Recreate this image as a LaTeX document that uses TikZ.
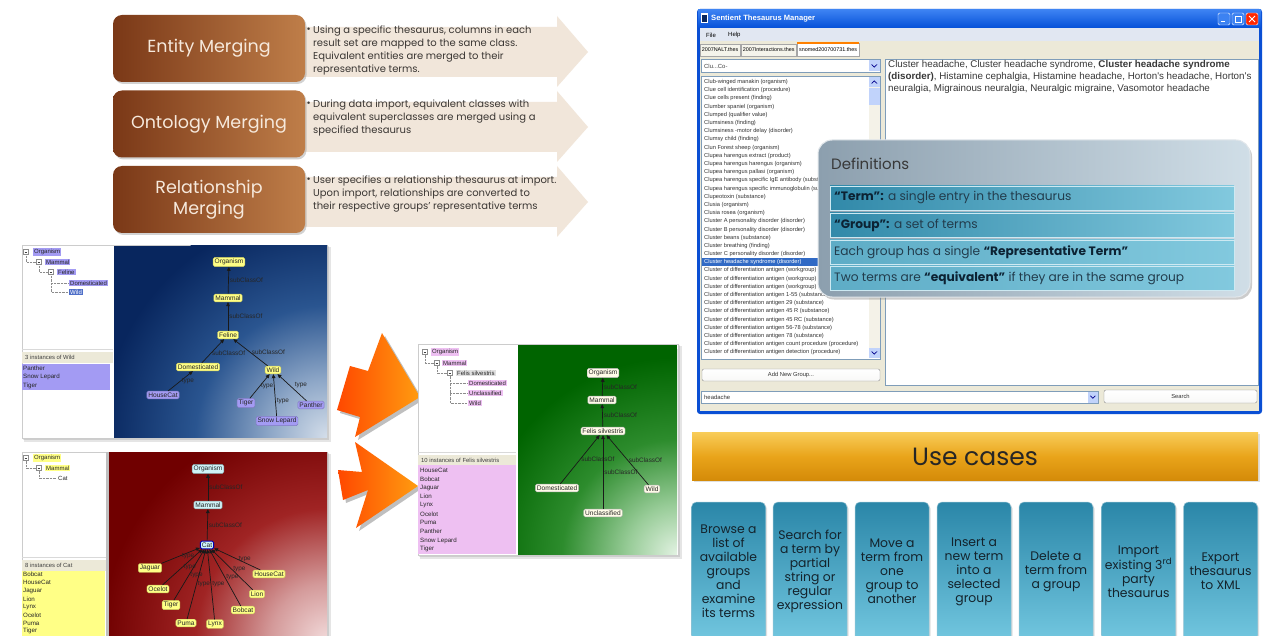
\documentclass[tikz,border=0pt]{standalone}
\usepackage{fontspec}
\setmainfont{Liberation Sans}
\newfontfamily\slidefont{Poppins}
\newfontfamily\uifont{Liberation Sans}
\usetikzlibrary{arrows.meta,shadows,calc,positioning}
\newcommand{\setfs}[2]{\fontsize{#1}{#2}\selectfont}
% small tree-view expander box
\newcommand{\minusbox}[2]{%
  \draw[black!45, fill=white, line width=.4pt] (#1-2.4,#2-2.4) rectangle (#1+2.4,#2+2.4);
  \draw[black!75, line width=.45pt] (#1-1.3,#2) -- (#1+1.3,#2);}

\definecolor{brownD}{HTML}{7A3817}
\definecolor{brownL}{HTML}{BF7E49}
\definecolor{cream}{HTML}{F6E9DC}
\definecolor{beigeA}{HTML}{F1E6DA}
\definecolor{bodytxt}{HTML}{3A3633}
\definecolor{navy}{HTML}{08265E}
\definecolor{navyM}{HTML}{2A5590}
\definecolor{skyM}{HTML}{8FA8C8}
\definecolor{skyL}{HTML}{D4DEEA}
\definecolor{wine}{HTML}{700000}
\definecolor{wineM}{HTML}{A02424}
\definecolor{roseM}{HTML}{D49A9A}
\definecolor{roseL}{HTML}{F2DADA}
\definecolor{forest}{HTML}{006400}
\definecolor{forestM}{HTML}{2D8C2D}
\definecolor{mintM}{HTML}{98CC98}
\definecolor{mintL}{HTML}{E2F2E2}
\definecolor{ylw}{HTML}{FFFF86}
\definecolor{ylwE}{HTML}{C8C860}
\definecolor{lav}{HTML}{A39BF3}
\definecolor{lavD}{HTML}{4F6FC8}
\definecolor{pinkL}{HTML}{EEC0F2}
\definecolor{cyanL}{HTML}{CFF3F8}
\definecolor{creamN}{HTML}{FFFCE8}
\definecolor{xpbeige}{HTML}{ECE9D8}
\definecolor{xpblue}{HTML}{0A4FD4}
\definecolor{xptitleA}{HTML}{3C82F2}
\definecolor{xptitleB}{HTML}{0550D8}
\definecolor{menubg}{HTML}{E1E7F2}
\definecolor{fieldedge}{HTML}{7F9DB9}
\definecolor{selblue}{HTML}{316AC5}
\definecolor{scrollbtn}{HTML}{C1D3FB}
\definecolor{orA}{HTML}{FF4800}
\definecolor{orB}{HTML}{FF9C10}
\definecolor{defA}{HTML}{8C9FAE}
\definecolor{defB}{HTML}{D0DEE7}
\definecolor{barA}{HTML}{3189A9}
\definecolor{barB}{HTML}{82C9DE}
\definecolor{defink}{HTML}{0C2233}
\definecolor{defbody}{HTML}{223C4C}
\definecolor{goldA}{HTML}{F8CC58}
\definecolor{goldM}{HTML}{E9A41A}
\definecolor{goldB}{HTML}{D48A08}
\definecolor{ucA}{HTML}{2A86A8}
\definecolor{ucB}{HTML}{78CCE4}
\definecolor{ucink}{HTML}{14232C}

% glow shadings for the three graph canvases (light corner fading to dark)
\pgfdeclareradialshading{blueglow}{\pgfpoint{0bp}{0bp}}{color(0bp)=(skyL); color(6bp)=(skyM); color(14bp)=(navyM); color(24bp)=(navy); color(50bp)=(navy)}
\pgfdeclareradialshading{redglow}{\pgfpoint{0bp}{0bp}}{color(0bp)=(roseL); color(6bp)=(roseM); color(14bp)=(wineM); color(24bp)=(wine); color(50bp)=(wine)}
\pgfdeclareradialshading{greenglow}{\pgfpoint{0bp}{0bp}}{color(0bp)=(mintL); color(6bp)=(mintM); color(14bp)=(forestM); color(24bp)=(forest); color(50bp)=(forest)}

\tikzset{
  mergebox/.style={rounded corners=9pt, minimum width=192pt, minimum height=67pt, inner sep=0pt,
    left color=brownD, right color=brownL, text=cream,
    font=\slidefont\setfs{17.5}{21}, align=center,
    drop shadow={opacity=.35, shadow xshift=1.5pt, shadow yshift=-2pt}},
  bullettext/.style={anchor=north west, inner sep=0pt, align=left, text=bodytxt,
    font=\slidefont\setfs{10}{13}},
  gnode/.style={rounded corners=1.5pt, inner sep=1.5pt, font=\uifont\setfs{6.6}{7}, text=black!85},
  yn/.style={gnode, fill=ylw, draw=ylwE},
  pn/.style={gnode, fill=lav, draw=lav!80!black},
  cn/.style={gnode, fill=cyanL, draw=cyanL!60!black},
  wn/.style={gnode, fill=creamN, draw=black!30},
  isa/.style={draw=black!90, line width=.7pt, -{Triangle[length=4pt,width=3.6pt]}},
  el/.style={font=\uifont\setfs{6.4}{7}, text=black!85, inner sep=1pt},
  treeitem/.style={font=\uifont\setfs{6}{7}, inner sep=1pt, anchor=west, text=black!85},
  treeline/.style={draw=black!45, densely dotted, line width=.4pt},
  listitem/.style={font=\uifont\setfs{6.2}{7}, inner sep=0pt, anchor=west, text=black!85},
  thesitem/.style={font=\uifont\setfs{5.7}{6}, inner sep=0pt, anchor=west, text=black!80},
  header/.style={font=\uifont\setfs{5.9}{7}, inner sep=0pt, anchor=west, text=black!75},
  tabst/.style={draw=black!35, fill=xpbeige!50!white, font=\uifont\setfs{5.4}{6}, inner sep=1.6pt,
    minimum height=12pt, anchor=south west},
  xpbtn/.style={draw=black!45, rounded corners=2pt, top color=white, bottom color=xpbeige!80!black!10,
    font=\uifont\setfs{5.8}{6}, text=black!80},
  defbox/.style={rounded corners=14pt, minimum width=432pt, minimum height=157pt, draw=white!75!defA,
    line width=1pt, left color=defA, right color=defB,
    drop shadow={opacity=.4, shadow xshift=2pt, shadow yshift=-2.5pt}},
  defbar/.style={minimum width=404pt, minimum height=24pt, inner sep=0pt, draw=white!60!barB,
    line width=.6pt, left color=barA, right color=barB},
  deftext/.style={anchor=west, inner sep=0pt, font=\slidefont\setfs{12.2}{14}, text=defbody},
  ucbox/.style={rounded corners=5pt, minimum width=74pt, minimum height=150pt, inner sep=0pt,
    top color=ucA, bottom color=ucB, draw=white!50!ucA, line width=.5pt,
    drop shadow={opacity=.25, shadow xshift=1.5pt, shadow yshift=-1.5pt}},
  uctext/.style={align=center, inner sep=0pt, text=ucink, font=\slidefont\setfs{12.4}{14}},
}

\begin{document}
\begin{tikzpicture}[x=1pt,y=-1pt]
\useasboundingbox[fill=white] (0,0) rectangle (1279,636);

% ================= merging overview =================
\foreach \yt/\yb/\hy in {27/77/52, 102/152/127, 177/227/202}{
  \fill[beigeA] (300,\yt) -- (557,\yt) -- (557,\yt-11) -- (588,\hy) -- (557,\yb+10) -- (557,\yb) -- (300,\yb) -- cycle;
}
\node[mergebox] (entity) at (209,48.5) {Entity Merging};
\node[mergebox] (onto) at (209,124) {Ontology Merging};
\node[mergebox] (rel) at (209,199.5) {Relationship\\Merging};

\node[bullettext] (dot1) at (306.5,27.5) {•};
\node[bullettext] (txt1) at (313,26) {Using a specific thesaurus, columns in each\\result set are mapped to the same class.\\Equivalent entities are merged to their\\representative terms.};
\node[bullettext] (dot2) at (306.5,101.5) {•};
\node[bullettext] (txt2) at (313,100) {During data import, equivalent classes with\\equivalent superclasses are merged using a\\specified thesaurus};
\node[bullettext] (dot3) at (306.5,177.5) {•};
\node[bullettext] (txt3) at (313,176) {User specifies a relationship thesaurus at import.\\Upon import, relationships are converted to\\their respective groups’ representative terms};

% ================= blue ontology view =================
\fill[black, opacity=.10] (24,247) rectangle (331,442);
\fill[black, opacity=.10] (23,246) rectangle (329,440);
\fill[white] (22,245) rectangle (327,438);
\draw[black!20] (22,245) rectangle (327,438);
\begin{scope}
\clip (114,246) rectangle (327,437);
\fill[navy] (114,246) rectangle (327,437);
\shade[shading=blueglow] (327,437) circle[radius=235pt];
\end{scope}
% tree
\minusbox{26}{252}
\node[treeitem, fill=lav] (bt-org) at (33,252) {Organism};
\draw[treeline] (26,254.5) -- (26,262) -- (36.5,262);
\minusbox{39}{262}
\node[treeitem, fill=lav] (bt-mam) at (45,262) {Mammal};
\draw[treeline] (39,264.5) -- (39,272) -- (48.5,272);
\minusbox{51}{272}
\node[treeitem, fill=lav] (bt-fel) at (57,272) {Feline};
\draw[treeline] (51,274.5) -- (51,292) -- (68,292) (51,283) -- (68,283);
\node[treeitem, fill=lav] (bt-dom) at (69,283) {Domesticated};
\node[treeitem, fill=lavD, text=white] (bt-wild) at (69,292) {Wild};
\draw[black!15] (22,349) -- (113,349);
\fill[xpbeige] (22,352) rectangle (113,363);
\node[header] (bh) at (25,357.5) {3 instances of Wild};
\fill[lav] (22,364) rectangle (110,390);
\node[listitem] (bl1) at (23,368) {Panther};
\node[listitem] (bl2) at (23,377) {Snow Lepard};
\node[listitem] (bl3) at (23,386) {Tiger};
% graph
\node[yn] (b-org) at (229,262) {Organism};
\node[yn] (b-mam) at (228,298) {Mammal};
\node[yn] (b-fel) at (228,335) {Feline};
\node[yn] (b-dom) at (198,367) {Domesticated};
\node[yn] (b-wild) at (273,370) {Wild};
\node[pn] (b-hc) at (163,395) {HouseCat};
\node[pn] (b-tig) at (246,403) {Tiger};
\node[pn] (b-sl) at (277,421) {Snow Lepard};
\node[pn] (b-pan) at (311,405) {Panther};
\draw[isa] (b-mam) -- node[el, anchor=west] {subClassOf} (b-org);
\draw[isa] (b-fel) -- node[el, anchor=west] {subClassOf} (b-mam);
\draw[isa] (b-dom) -- node[el, anchor=west, pos=.4] {subClassOf} (b-fel);
\draw[isa] (b-wild) -- node[el, anchor=west, pos=.5] {subClassOf} (b-fel);
\draw[isa] (b-hc) -- node[el, anchor=west] {type} (b-dom);
\draw[isa] (b-tig) -- node[el, anchor=west] {type} (b-wild);
\draw[isa] (b-sl) -- node[el, anchor=west, pos=.35] {type} (b-wild);
\draw[isa] (b-pan) -- node[el, anchor=south west, pos=.45] {type} (b-wild);

% ================= red ontology view =================
\fill[black, opacity=.10] (24,454) rectangle (331,640);
\fill[black, opacity=.10] (23,453) rectangle (329,640);
\fill[white] (22,452) rectangle (327,640);
\draw[black!20] (22,452) rectangle (327,640);
\begin{scope}
\clip (109,452) rectangle (327,640);
\fill[wine] (109,452) rectangle (327,640);
\shade[shading=redglow] (327,640) circle[radius=235pt];
\end{scope}
\fill[black!25] (106,452) rectangle (109,640);
\minusbox{26}{458}
\node[treeitem, fill=ylw] (rt-org) at (33,458) {Organism};
\draw[treeline] (26,460.5) -- (26,468) -- (36.5,468);
\minusbox{39}{468}
\node[treeitem, fill=ylw] (rt-mam) at (45,468) {Mammal};
\draw[treeline] (39,470.5) -- (39,478) -- (56,478);
\node[treeitem] (rt-cat) at (57,478) {Cat};
\draw[black!15] (22,557) -- (106,557);
\fill[xpbeige] (22,560) rectangle (106,571);
\node[header] (rh) at (25,565.5) {8 instances of Cat};
\fill[ylw] (22,571) rectangle (105,640);
\foreach \n [count=\i] in {Bobcat,HouseCat,Jaguar,Lion,Lynx,Ocelot,Puma,Tiger}{
  \node[listitem] (rl\i) at (23,566.6+8.05*\i) {\n};
}
\node[cn] (r-org) at (208,469) {Organism};
\node[cn] (r-mam) at (208,505) {Mammal};
\node[cn, draw=blue!70!black, line width=.9pt] (r-cat) at (207,545) {Cat};
\node[yn] (r-jag) at (150,568) {Jaguar};
\node[yn] (r-oce) at (158,589) {Ocelot};
\node[yn] (r-tig) at (171,605) {Tiger};
\node[yn] (r-pum) at (186,623) {Puma};
\node[yn] (r-lyn) at (215,624) {Lynx};
\node[yn] (r-bob) at (243,610) {Bobcat};
\node[yn] (r-lio) at (257,594) {Lion};
\node[yn] (r-hc) at (269,574) {HouseCat};
\draw[isa] (r-mam) -- node[el, anchor=west] {subClassOf} (r-org);
\draw[isa] (r-cat) -- node[el, anchor=west] {subClassOf} (r-mam);
\foreach \src in {r-jag,r-oce,r-tig,r-pum,r-lyn,r-bob,r-lio,r-hc}{
  \draw[isa] (\src) -- node[el, anchor=west] {type} (r-cat);
}

% ================= merging arrows =================
\fill[black, opacity=.25] (385,336) -- (371,374) -- (353,369) -- (340,413) -- (363,420) -- (358,440) -- (423,400) -- cycle;
\shade[left color=orA, right color=orB] (382,333) -- (368,371) -- (350,366) -- (337,410) -- (360,417) -- (355,437) -- (420,397) -- cycle;
\fill[black, opacity=.25] (358,445) -- (365,475) -- (341,473) -- (346,503) -- (371,493) -- (359,531) -- (421,489) -- cycle;
\shade[left color=orA, right color=orB] (355,442) -- (362,472) -- (338,470) -- (343,500) -- (368,490) -- (356,528) -- (418,486) -- cycle;

% ================= merged (green) ontology view =================
\fill[black, opacity=.10] (420,346) rectangle (682,559);
\fill[black, opacity=.10] (419,345) rectangle (680,557);
\fill[white] (418,344) rectangle (678,555);
\draw[black!20] (418,344) rectangle (678,555);
\begin{scope}
\clip (518,345) rectangle (677,554);
\fill[forest] (518,345) rectangle (677,554);
\shade[shading=greenglow] (677,554) circle[radius=205pt];
\end{scope}
\minusbox{425}{352}
\node[treeitem, fill=pinkL] (gt-org) at (431,352) {Organism};
\draw[treeline] (425,354.5) -- (425,363) -- (434.5,363);
\minusbox{437}{363}
\node[treeitem, fill=pinkL] (gt-mam) at (442,363) {Mammal};
\draw[treeline] (437,365.5) -- (437,373) -- (447.5,373);
\minusbox{450}{373}
\node[treeitem, fill=black!12] (gt-fel) at (456,373) {Felis silvestris};
\draw[treeline] (450,375.5) -- (450,403) -- (467,403) (450,383) -- (467,383) (450,393) -- (467,393);
\node[treeitem, fill=pinkL] (gt-dom) at (468,383) {Domesticated};
\node[treeitem, fill=pinkL] (gt-unc) at (468,393) {Unclassified};
\node[treeitem, fill=pinkL] (gt-wild) at (468,403) {Wild};
\draw[black!15] (418,452) -- (516,452);
\fill[xpbeige] (418,455) rectangle (516,465);
\node[header] (gh) at (421,460) {10 instances of Felis silvestris};
\fill[pinkL] (418,465) rectangle (516,554);
\foreach \n [count=\i] in {HouseCat,Bobcat,Jaguar,Lion,Lynx,Ocelot,Puma,Panther,Snow Lepard,Tiger}{
  \node[listitem] (gl\i) at (420,461.2+8.8*\i) {\n};
}
\node[wn] (g-org) at (603,373) {Organism};
\node[wn] (g-mam) at (602,400) {Mammal};
\node[wn] (g-fel) at (603,431) {Felis silvestris};
\node[wn] (g-dom) at (557,488) {Domesticated};
\node[wn] (g-unc) at (603,513) {Unclassified};
\node[wn] (g-wild) at (652,489) {Wild};
\draw[isa] (g-mam) -- node[el, anchor=west] {subClassOf} (g-org);
\draw[isa] (g-fel) -- node[el, anchor=west] {subClassOf} (g-mam);
\draw[isa] (g-dom) -- node[el, anchor=west] {subClassOf} (g-fel);
\draw[isa] (g-unc) -- node[el, anchor=west] {subClassOf} (g-fel);
\draw[isa] (g-wild) -- node[el, anchor=west] {subClassOf} (g-fel);

% ================= Sentient Thesaurus Manager window =================
\fill[xpblue, rounded corners=3pt] (697,9) rectangle (1262,414);
\shade[top color=xptitleA, bottom color=xptitleB] (698,10) rectangle (1261,28);
\fill[xpbeige] (700,28) rectangle (1259,411);
\fill[menubg] (700,28) rectangle (1259,41);
\fill[white] (701,13.5) rectangle (708,23.5);
\fill[navy] (702.3,15) rectangle (706.7,22);
\node[anchor=west, inner sep=0pt, text=white, font=\uifont\bfseries\setfs{7.6}{8}] (wtitle) at (711,19) {Sentient Thesaurus Manager};
\draw[white, fill=xptitleA, rounded corners=1.5pt] (1218,13) rectangle (1230,25);
\draw[white, line width=1pt] (1221,22) -- (1225,22);
\draw[white, fill=xptitleA, rounded corners=1.5pt] (1232,13) rectangle (1244,25);
\draw[white, line width=.6pt] (1235,16.5) rectangle (1241,22);
\draw[white, fill=red!70!orange, rounded corners=1.5pt] (1246,13) rectangle (1258,25);
\draw[white, line width=1pt] (1249,16) -- (1255,22) (1255,16) -- (1249,22);
\node[anchor=west, inner sep=0pt, font=\uifont\setfs{6}{7}] (mfile) at (706,35) {File};
\node[anchor=west, inner sep=0pt, font=\uifont\setfs{6}{7}] (mhelp) at (728,35) {Help};
% tabs
\node[tabst] (tab1) at (700,56) {2007NALT.thes};
\node[tabst, right=1pt of tab1] (tab2) {2007Interactions.thes};
\node[tabst, right=1pt of tab2, fill=white, minimum height=13pt] (tab3) {snomed200700731.thes};
\draw[orange, line width=1.2pt] (tab3.north west) -- (tab3.north east);
% group list pane
\draw[fieldedge, fill=white] (701,59) rectangle (880,72);
\node[anchor=west, inner sep=0pt, font=\uifont\setfs{5.9}{6}, text=black!75] (range) at (704,66) {Clu...Co-};
\fill[scrollbtn] (869,60) rectangle (879.5,71.5);
\draw[blue!55!black, line width=.7pt] (871.5,64.5) -- (874.25,67.2) -- (877,64.5);
\draw[fieldedge, fill=white] (701,76) rectangle (880,359);
\fill[xpbeige!60!white] (869,77) rectangle (879.5,358);
\fill[scrollbtn] (869,77) rectangle (879.5,87);
\draw[blue!55!black, line width=.7pt] (871.5,83.5) -- (874.25,80.8) -- (877,83.5);
\fill[scrollbtn] (869,88) rectangle (879.5,105);
\fill[scrollbtn] (869,348) rectangle (879.5,358);
\draw[blue!55!black, line width=.7pt] (871.5,351.5) -- (874.25,354.2) -- (877,351.5);
\begin{scope}
\clip (702,77) rectangle (868.5,358);
\foreach \t [count=\i] in {Club-winged manakin (organism), Clue cell identification (procedure), Clue cells present (finding), Clumber spaniel (organism), Clumped (qualifier value), Clumsiness (finding), Clumsiness -motor delay (disorder), Clumsy child (finding), Clun Forest sheep (organism), Clupea harengus extract (product), Clupea harengus harengus (organism), Clupea harengus pallasi (organism), Clupea harengus specific IgE antibody (substance), Clupea harengus specific immunoglobulin (substance), Clupeotoxin (substance), Clusia (organism), Clusia rosea (organism), Cluster A personality disorder (disorder), Cluster B personality disorder (disorder), Cluster beans (substance), Cluster breathing (finding), Cluster C personality disorder (disorder)}{
  \node[thesitem] (ta\i) at (704,73.8+8.2*\i) {\t};
}
\fill[selblue] (702,258.2) rectangle (868.5,266.4);
\node[thesitem, text=white] (tsel) at (704,262.2) {Cluster headache syndrome (disorder)};
\foreach \t [count=\i] in {Cluster of differentiation antigen (workgroup), Cluster of differentiation antigen (workgroup), Cluster of differentiation antigen (workgroup), Cluster of differentiation antigen 1-55 (substance), Cluster of differentiation antigen 29 (substance), Cluster of differentiation antigen 45 R (substance), Cluster of differentiation antigen 45 RC (substance), Cluster of differentiation antigen 56-78 (substance), Cluster of differentiation antigen 78 (substance), Cluster of differentiation antigen count procedure (procedure), Cluster of differentiation antigen detection (procedure)}{
  \node[thesitem] (tb\i) at (704,262.2+8.2*\i) {\t};
}
\end{scope}
\node[xpbtn, minimum width=178pt, minimum height=12pt] (addgrp) at (791,375) {Add New Group...};
% term pane
\draw[fieldedge, fill=white] (885,59) rectangle (1258,385);
\node[anchor=north west, inner sep=0pt, align=left, text=black!78, font=\uifont\setfs{9.8}{12}] (terms) at (888,60.5)
  {Cluster headache, Cluster headache syndrome, \textbf{Cluster headache syndrome}\\
   \textbf{(disorder)}, Histamine cephalgia, Histamine headache, Horton's headache, Horton's\\
   neuralgia, Migrainous neuralgia, Neuralgic migraine, Vasomotor headache};
% search row
\draw[fieldedge, fill=white] (701,391) rectangle (1098,403);
\node[anchor=west, inner sep=0pt, font=\uifont\setfs{5.9}{6}, text=black!80] (query) at (704,397) {headache};
\fill[scrollbtn] (1088,392) rectangle (1097.5,402.5);
\draw[blue!55!black, line width=.7pt] (1090.3,395.8) -- (1092.8,398.3) -- (1095.3,395.8);
\node[xpbtn, minimum width=153pt, minimum height=13pt] (search) at (1180.5,396.5) {Search};

% ================= definitions =================
\node[defbox] (defs) at (1034,218.5) {};
\node[anchor=west, inner sep=0pt, text=black!78, font=\slidefont\setfs{15}{16}] (deftitle) at (831,164) {Definitions};
\node[defbar] (bar1) at (1032,198) {};
\node[defbar] (bar2) at (1032,225) {};
\node[defbar, left color=barA!45!barB] (bar3) at (1032,252) {};
\node[defbar, left color=barA!45!barB] (bar4) at (1032,278) {};
\node[deftext] (def1) at (834,198) {\textbf{\color{defink}“Term”:} a single entry in the thesaurus};
\node[deftext] (def2) at (834,225) {\textbf{\color{defink}“Group”:} a set of terms};
\node[deftext] (def3) at (834,252) {Each group has a single \textbf{\color{defink}“Representative Term”}};
\node[deftext] (def4) at (834,278) {Two terms are \textbf{\color{defink}“equivalent”} if they are in the same group};

% ================= use cases =================
\node[minimum width=566pt, minimum height=48pt, inner sep=0pt, top color=goldA, bottom color=goldB,
  middle color=goldM, drop shadow={opacity=.25, shadow xshift=1.5pt, shadow yshift=-1.5pt},
  text=black!85, font=\slidefont\setfs{25}{28}] (uchead) at (975,456.5) {Use cases};
\foreach \cx/\txt [count=\k] in {
  728.5/{Browse a\\list of\\available\\groups\\and\\examine\\its terms},
  810/{Search for\\a term by\\partial\\string or\\regular\\expression},
  892/{Move a\\term from\\one\\group to\\another},
  974/{Insert a\\new term\\into a\\selected\\group},
  1056/{Delete a\\term from\\a group},
  1138.5/{Import\\existing 3\textsuperscript{rd}\\party\\thesaurus},
  1220.5/{Export\\thesaurus\\to XML}}{
  \node[ucbox] (uc\k) at (\cx,577) {};
  \node[uctext] (uct\k) at (\cx,571.5) {\txt};
}
\end{tikzpicture}
\end{document}
